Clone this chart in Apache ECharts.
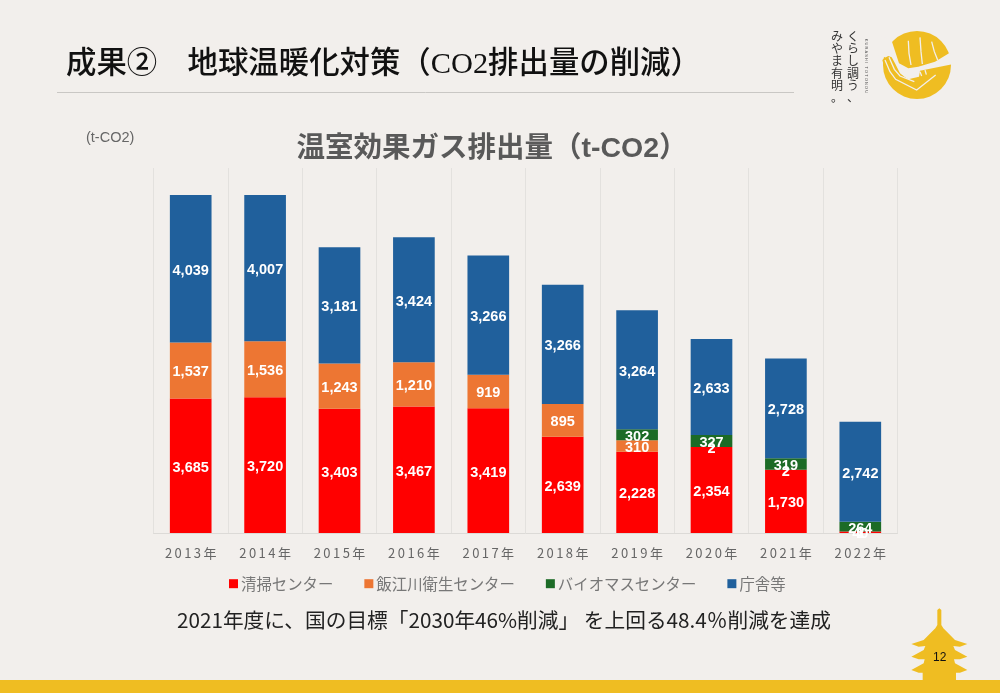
<!DOCTYPE html>
<html><head><meta charset="utf-8">
<style>html,body{margin:0;padding:0;background:#f2efec}#c{width:1000px;height:693px}</style>
<script src="https://cdn.jsdelivr.net/npm/echarts@6/dist/echarts.min.js"></script>
</head><body><div id="c"></div>
<script>
const categories = ['2013年','2014年','2015年','2016年','2017年','2018年','2019年','2020年','2021年','2022年'];
const seiso   = [3685,3720,3403,3467,3419,2639,2228,2354,1730,40];
const iigawa  = [1537,1536,1243,1210,919,895,310,2,2,1];
const bio     = [null,null,null,null,null,null,302,327,319,264];
const chosha  = [4039,4007,3181,3424,3266,3266,3264,2633,2728,2742];
const seriesNames = ['清掃センター','飯江川衛生センター','バイオマスセンター','庁舎等'];
const seriesColors = ['#ff0000','#ed7633','#1c6b26','#20609c'];
const seriesValues = [seiso,iigawa,bio,chosha];

const JP = '"Noto Sans CJK JP"';
const BG = '#f2efec', GOLD = '#efbd22';

// logo coordinates are in 3x crop units, mapped to the slide
const L = pts => pts.map(p=>[875+p[0]/3,20+p[1]/3]);
const logoGap = [[0,40],[50,62],[72,130],[100,145],[130,140],[180,125],[222,100],[250,110],[250,130],[232,133],[135,152],[132,170],[100,178],[60,155],[30,112],[0,105]];
const logoFingers = [[22,120],[30,113],[40,108],[50,112],[60,130],[75,160],[100,180],[135,172],[140,190],[100,220],[60,190],[30,150]];
const logoLines = [
 [[100,62],[102,100],[108,135]],[[135,52],[138,95],[142,132]],[[170,65],[178,95],[188,120]],
 [[30,120],[45,155],[62,178],[125,210],[182,165]],[[42,112],[58,148],[75,168],[118,185]],[[135,155],[140,168]],[[150,150],[154,164]]
];
const pagodaR = [[0,55],[6,60],[6,105],[12,115],[27,130],[47,150],[84,162],[62,170],[42,168],[47,180],[84,200],[62,208],[44,208],[47,220],[84,240],[62,248],[50,248],[50,270]];
const pagoda = pagodaR.concat(pagodaR.slice().reverse().map(p=>[-p[0],p[1]])).map(p=>[880+(178+p[0])/3,590+p[1]/3]);

const graphic = [
 {type:'rect',silent:true,z:-1,shape:{x:0,y:680,width:1000,height:13},style:{fill:GOLD}},
 {type:'polygon',silent:true,z:-1,shape:{points:pagoda},style:{fill:GOLD}},
 {type:'text',left:933,top:652,style:{text:'12',font:'12px "Liberation Sans"',fill:'#111'}},
 {type:'text',left:66,top:50,style:{text:'成果②　地球温暖化対策（CO2排出量の削減）',font:'500 30.4px "Liberation Serif",'+JP,fill:'#111'}},
 {type:'line',silent:true,shape:{x1:57,y1:92.5,x2:794,y2:92.5},style:{stroke:'#c9c7c4',lineWidth:1}},
 {type:'text',left:86,top:130,style:{text:'(t-CO2)',font:'14.5px "Liberation Sans"',fill:'#666'}},
 {type:'text',left:177,top:610,style:{text:'2021年度に、国の目標「2030年46%削減」 を上回る48.4％削減を達成',font:'20.7px '+JP,fill:'#222'}},
 {type:'circle',silent:true,shape:{cx:917,cy:65,r:34},style:{fill:GOLD}},
 {type:'polygon',silent:true,shape:{points:L(logoGap)},style:{fill:BG}},
 {type:'polygon',silent:true,shape:{points:L(logoFingers)},style:{fill:GOLD}},
 ...logoLines.map(l=>({type:'polyline',silent:true,shape:{points:L(l)},style:{stroke:BG,fill:null,lineWidth:1.3}})),
 {type:'text',left:847,top:30,style:{text:'くらし調う、'.split('').join('\n'),font:'12px '+JP,fill:'#333',lineHeight:12.3}},
 {type:'text',left:831,top:30,style:{text:'みやま有明。'.split('').join('\n'),font:'12px '+JP,fill:'#333',lineHeight:12.3}},
 {type:'text',x:866,y:66,rotation:-Math.PI/2,style:{text:'K U R A S H I   T O T O N O U',font:'4px "Liberation Sans"',fill:'#555',align:'center',verticalAlign:'middle'}},
];

const chart = echarts.init(document.getElementById('c'),null,{renderer:'canvas'});
chart.setOption({
 animation:false,
 backgroundColor:BG,
 textStyle:{fontFamily:JP},
 title:{text:'温室効果ガス排出量（t-CO2）',left:487,textAlign:'center',top:130,textStyle:{fontFamily:'"Liberation Sans",'+JP,fontSize:28.5,fontWeight:'bold',color:'#595959'}},
 legend:{left:224,top:571,itemWidth:9,itemHeight:9,itemGap:31,icon:'rect',
   textStyle:{fontFamily:JP,fontSize:15.4,color:'#777',padding:[0,0,0,-2]},
   data:seriesNames},
 grid:{left:153.5,width:744,top:168,height:365,containLabel:false},
 xAxis:{type:'category',data:categories,
   axisTick:{show:false},
   axisLine:{lineStyle:{color:'#dcdad7'}},
   splitLine:{show:true,interval:0,lineStyle:{color:'#e3e1de'}},
   axisLabel:{interval:0,fontFamily:JP,fontSize:13,color:'#666',margin:14,
     formatter:v=>v.split('').join('\u200a\u200a\u200a')}},
 yAxis:{type:'value',min:0,max:10000,show:false,splitLine:{show:false}},
 graphic,
 series:seriesNames.map((n,i)=>({
   name:n,type:'bar',stack:'t',barWidth:'56%',data:seriesValues[i],
   itemStyle:{color:seriesColors[i]},
   label:{show:true,position:'inside',offset:[0,2],color:'#fff',fontFamily:'"Liberation Sans"',fontWeight:'bold',fontSize:14.5,
     formatter:p=>p.value==null?'':p.value.toLocaleString('en-US')}
 }))
});
</script></body></html>
